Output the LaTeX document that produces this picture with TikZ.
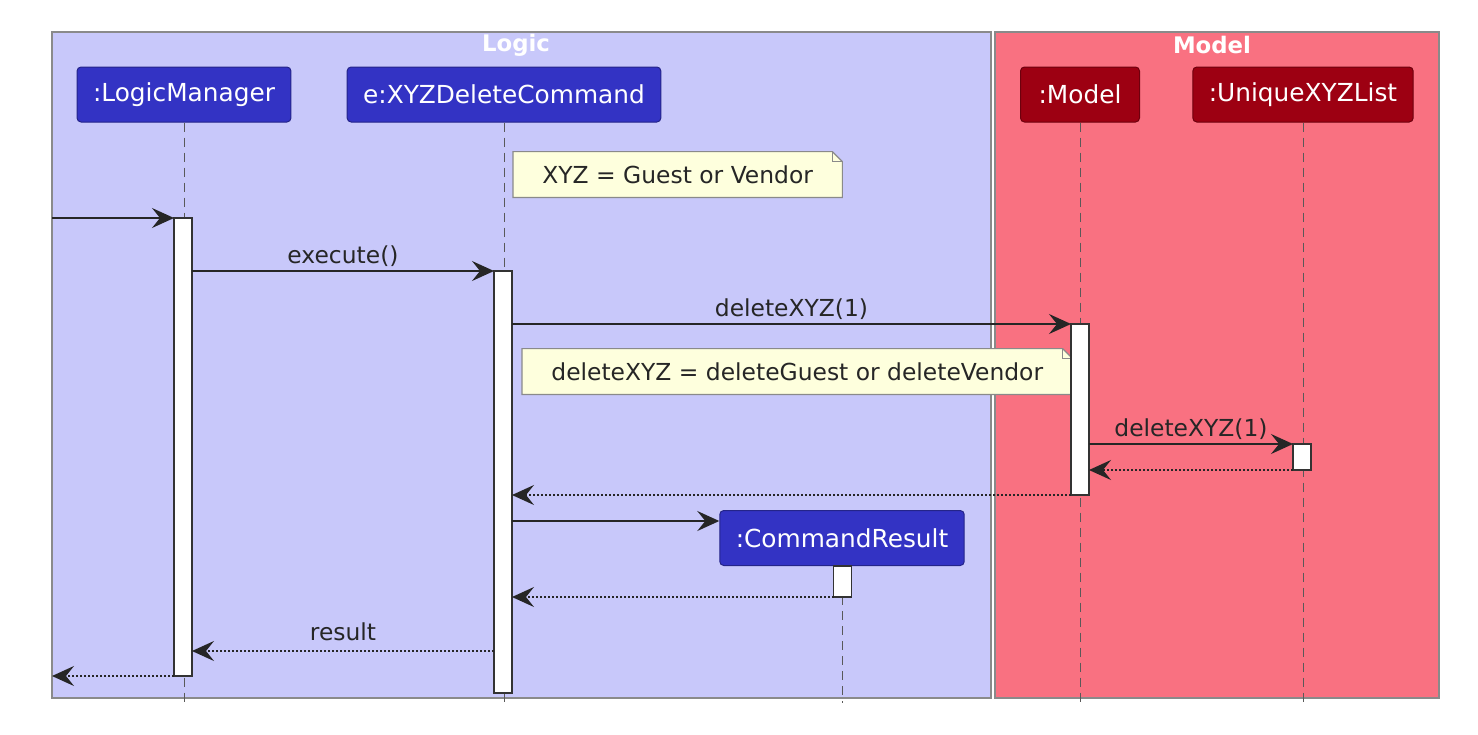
\documentclass[tikz,border=0pt]{standalone}
\usepackage{fontspec}
\setmainfont{DejaVu Sans}
\usetikzlibrary{arrows.meta}

\definecolor{logicbg}{HTML}{C8C8FA}
\definecolor{logicfill}{HTML}{3333C4}
\definecolor{modelbg}{HTML}{F97181}
\definecolor{modelfill}{HTML}{9D0012}
\definecolor{notefill}{HTML}{FEFFDD}
\definecolor{groupline}{HTML}{8A8A8A}

\pgfdeclarelayer{groups}
\pgfdeclarelayer{notes}
\pgfsetlayers{groups,notes,main}

\begin{document}
\begin{tikzpicture}[x=0.5pt,y=-0.5pt,
    >={Stealth[length=11pt,width=10pt,inset=4pt]},
    participant/.style={rounded corners=2pt, text=white, font=\fontsize{12.4}{14}\selectfont, minimum height=27.5pt, inner xsep=8pt, line width=0.5pt},
    logicpart/.style={participant, fill=logicfill, draw=logicfill!70!black},
    modelpart/.style={participant, fill=modelfill, draw=modelfill!70!black},
    lifeline/.style={draw=black!65, line width=0.5pt, dash pattern=on 4.5pt off 3pt},
    activation/.style={draw=black!80, fill=white, line width=0.75pt, minimum width=9pt, inner sep=0pt, outer sep=0pt, anchor=north},
    message/.style={->, line width=0.8pt, draw=black!85},
    reply/.style={message, dash pattern=on 1pt off 1pt},
    msglabel/.style={above, inner sep=2pt, font=\fontsize{11.7}{14}\selectfont, text=black!85},
    notebox/.style={font=\fontsize{11.7}{14}\selectfont, inner xsep=14.5pt, minimum height=22.5pt, text=black!85, anchor=west},
    grouptitle/.style={text=white, font=\bfseries\fontsize{11.4}{14}\selectfont}]
    \useasboundingbox (0,0) rectangle (1478,734);

    % Disegna i gruppi
    \begin{pgfonlayer}{groups}
        \draw[groupline, fill=logicbg, line width=0.75pt] (52,32) rectangle (991,698);
        \draw[groupline, fill=modelbg, line width=0.75pt] (995,32) rectangle (1439,698);
    \end{pgfonlayer}
    \node[grouptitle] (logic) at (516,45) {Logic};
    \node[grouptitle] (model) at (1212,45) {Model};

    % Partecipanti e linee di vita
    \node[logicpart] (lm) at (184,94.5) {:LogicManager};
    \node[logicpart] (dc) at (504,94.5) {e:XYZDeleteCommand};
    \node[modelpart, minimum width=59.5pt] (mo) at (1080,94.5) {:Model};
    \node[modelpart] (ul) at (1303,94.5) {:UniqueXYZList};
    \foreach \p in {lm,dc,mo,ul}
        \draw[lifeline] (\p.south) -- (\p.south |- 0,703);
    \draw[lifeline] (842,566) -- (842,703);
    \node[logicpart] (cr) at (842,538) {:CommandResult};

    % Note
    \node[notebox] (n1) at (513,174.5) {XYZ = Guest or Vendor};
    \node[notebox] (n2) at (522,371.5) {deleteXYZ = deleteGuest or deleteVendor};
    \begin{pgfonlayer}{notes}
        \foreach \n in {n1,n2} {
            \draw[groupline, fill=notefill, line width=0.6pt] (\n.south west) -- (\n.north west) -- ([xshift=-5pt]\n.north east)
                -- ([yshift=-5pt]\n.north east) -- (\n.south east) -- cycle;
            \draw[groupline, line width=0.6pt] ([xshift=-5pt]\n.north east) |- ([yshift=-5pt]\n.north east);
        }
    \end{pgfonlayer}

    % Attivazioni
    \node[activation, minimum height=229pt] (actLM) at (183,218) {};
    \node[activation, minimum height=211pt] (actDC) at (503,271) {};
    \node[activation, minimum height=85.5pt] (actM) at (1080,324) {};
    \node[activation, minimum height=13pt] (actU) at (1302,444) {};
    \node[activation, minimum height=15.5pt] (actCR) at (842.5,566) {};

    % Messaggi
    \coordinate (start) at (52,218);
    \coordinate (end) at (52,676);
    \coordinate (crin) at ([yshift=-5.5pt]cr.north west);
    \coordinate (res) at (actDC.west |- 0,651);

    \draw[message] (start) -- (actLM.north west);
    \draw[message] (actLM.east |- actDC.north) -- (actDC.north west) node[msglabel, midway] {execute()};
    \draw[message] (actDC.east |- actM.north) -- (actM.north west) node[msglabel, midway] {deleteXYZ(1)};
    \draw[message] (actM.east |- actU.north) -- (actU.north west) node[msglabel, midway] {deleteXYZ(1)};
    \draw[reply] (actU.south west) -- (actM.east |- actU.south);
    \draw[reply] (actM.south west) -- (actDC.east |- actM.south);
    \draw[message] (actDC.east |- crin) -- (crin);
    \draw[reply] (actCR.south west) -- (actDC.east |- actCR.south);
    \draw[reply] (res) -- (actLM.east |- res) node[msglabel, midway, yshift=2.5pt] {result};
    \draw[reply] (actLM.south west) -- (end);
\end{tikzpicture}
\end{document}
